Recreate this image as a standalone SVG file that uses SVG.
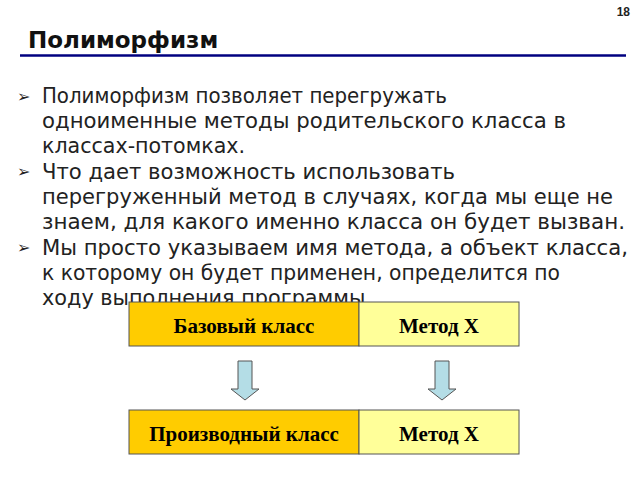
<svg xmlns="http://www.w3.org/2000/svg" width="640" height="480" viewBox="0 0 640 480">
<style>
.b{font-family:"DejaVu Sans",sans-serif;font-size:21px;fill:#222}
.m{font-family:"DejaVu Sans",sans-serif;font-size:16px;fill:#222}
.n{font-family:"Liberation Serif",serif;font-size:21px;font-weight:bold;fill:#000;text-anchor:middle}
.d{fill:#FFCC00;stroke:#555;stroke-width:1}
.l{fill:#FFFF99;stroke:#555;stroke-width:1}
.a{fill:#B4DDE6;stroke:#555;stroke-width:1}
</style>
<rect width="640" height="480" fill="#fff"/>
<text x="630" y="16" font-family="Liberation Sans,sans-serif" font-size="12" font-weight="bold" text-anchor="end" fill="#222">18</text>
<text x="28" y="48" font-family="DejaVu Sans,sans-serif" font-size="23" font-weight="bold" fill="#111">Полиморфизм</text>
<line x1="20" y1="55.5" x2="626" y2="55.5" stroke="#000080" stroke-width="2.5"/>
<g class="b">
<text class="m" x="17" y="102">➢</text>
<text x="42" y="103" textLength="405" lengthAdjust="spacingAndGlyphs">Полиморфизм позволяет перегружать</text>
<text x="42" y="128" textLength="524" lengthAdjust="spacingAndGlyphs">одноименные методы родительского класса в</text>
<text x="42" y="153" textLength="203" lengthAdjust="spacingAndGlyphs">классах-потомках.</text>
<text class="m" x="17" y="177">➢</text>
<text x="42" y="179" textLength="413" lengthAdjust="spacingAndGlyphs">Что дает возможность использовать</text>
<text x="42" y="204" textLength="571" lengthAdjust="spacingAndGlyphs">перегруженный метод в случаях, когда мы еще не</text>
<text x="42" y="229" textLength="583" lengthAdjust="spacingAndGlyphs">знаем, для какого именно класса он будет вызван.</text>
<text class="m" x="17" y="253">➢</text>
<text x="42" y="255" textLength="586" lengthAdjust="spacingAndGlyphs">Мы просто указываем имя метода, а объект класса,</text>
<text x="42" y="280" textLength="518" lengthAdjust="spacingAndGlyphs">к которому он будет применен, определится по</text>
<text x="42" y="305" textLength="330" lengthAdjust="spacingAndGlyphs">ходу выполнения программы.</text>
</g>
<g id="base">
<rect class="d" x="129" y="302" width="230" height="44"/>
<text class="n" x="244" y="333">Базовый класс</text>
</g>
<g id="baseMethod">
<rect class="l" x="359" y="302" width="160" height="44"/>
<text class="n" x="439" y="333">Метод X</text>
</g>
<g id="derived">
<rect class="d" x="129" y="410" width="230" height="44"/>
<text class="n" x="244" y="441">Производный класс</text>
</g>
<g id="derivedMethod">
<rect class="l" x="359" y="410" width="160" height="44"/>
<text class="n" x="439" y="441">Метод X</text>
</g>
<g id="connectors">
<path class="a" d="M238,361 H252 V389 H259 L245,400 L231,389 H238 Z"/>
<path class="a" d="M435,361 H449 V389 H456 L442,400 L428,389 H435 Z"/>
</g>
</svg>
